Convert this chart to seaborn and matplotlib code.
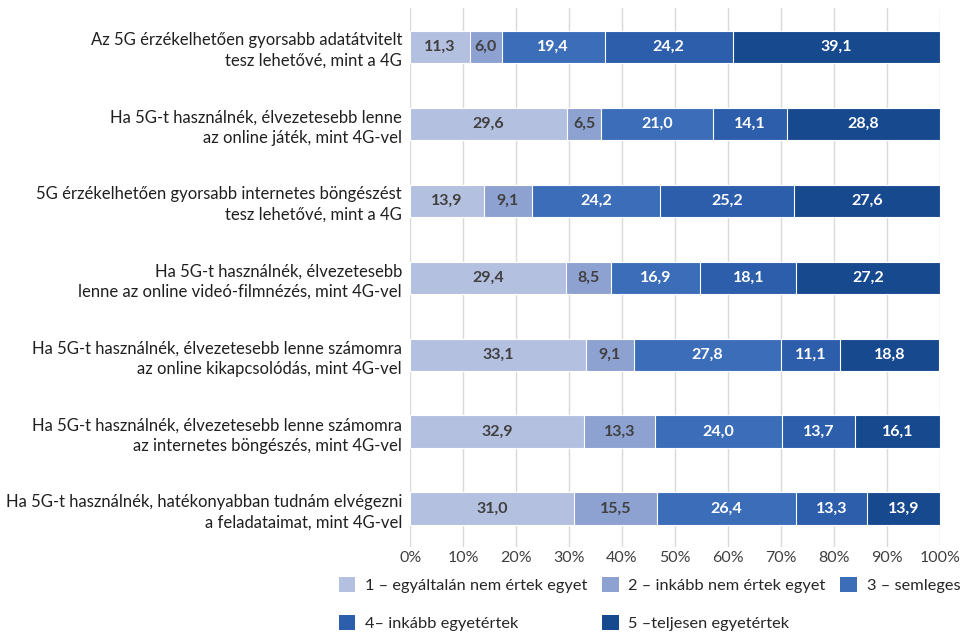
import numpy as np
import pandas as pd
import matplotlib
matplotlib.use('Agg')
import matplotlib.pyplot as plt
import seaborn as sns

# Adatok
kategoriak = [
    'Az 5G érzékelhetően gyorsabb adatátvitelt\ntesz lehetővé, mint a 4G',
    'Ha 5G-t használnék, élvezetesebb lenne\naz online játék, mint 4G-vel',
    '5G érzékelhetően gyorsabb internetes böngészést\ntesz lehetővé, mint a 4G',
    'Ha 5G-t használnék, élvezetesebb\nlenne az online videó-filmnézés, mint 4G-vel',
    'Ha 5G-t használnék, élvezetesebb lenne számomra\naz online kikapcsolódás, mint 4G-vel',
    'Ha 5G-t használnék, élvezetesebb lenne számomra\naz internetes böngészés, mint 4G-vel',
    'Ha 5G-t használnék, hatékonyabban tudnám elvégezni\na feladataimat, mint 4G-vel',
]
valaszok = ['1 – egyáltalán nem értek egyet', '2 – inkább nem értek egyet', '3 – semleges',
            '4– inkább egyetértek', '5 –teljesen egyetértek']
v1 = [11.3, 29.6, 13.9, 29.4, 33.1, 32.9, 31.0]
v2 = [6.0, 6.5, 9.1, 8.5, 9.1, 13.3, 15.5]
v3 = [19.4, 21.0, 24.2, 16.9, 27.8, 24.0, 26.4]
v4 = [24.2, 14.1, 25.2, 18.1, 11.1, 13.7, 13.3]
v5 = [39.1, 28.8, 27.6, 27.2, 18.8, 16.1, 13.9]
szinek = ['#B4C0E0', '#8EA2D2', '#3B6DB8', '#2C5EAC', '#17498F']
cimke_szin = ['#404040', '#404040', 'white', 'white', 'white']

ertekek = np.array([v1, v2, v3, v4, v5])
kumulalt = ertekek.cumsum(axis=0)

sns.set_style('white')
plt.rcParams['font.family'] = ['Lato', 'DejaVu Sans']

fig = plt.figure(figsize=(9.63, 6.34), dpi=100)
ax = fig.add_axes([0.426, 0.137, 0.55, 0.85])

# Halmozott sávok: a kumulált értékeket hátulról előre rajzoljuk
for i in range(4, -1, -1):
    df = pd.DataFrame({'kat': kategoriak, 'ertek': kumulalt[i]})
    sns.barplot(data=df, x='ertek', y='kat', orient='h', color=szinek[i],
                width=0.42, edgecolor='white', linewidth=0.8, ax=ax,
                label=valaszok[i], zorder=3, saturation=1)

for i in range(5):
    for j in range(len(kategoriak)):
        ax.text(kumulalt[i][j] - ertekek[i][j] / 2, j, f'{ertekek[i][j]:.1f}'.replace('.', ','),
                ha='center', va='center', fontsize=11.5, fontweight='bold',
                color=cimke_szin[i], zorder=5)

ax.set_xlim(0, 100)
ax.set_xticks(range(0, 101, 10))
ax.set_xticklabels([f'{t}%' for t in range(0, 101, 10)], fontsize=11.5, color='#404040')
ax.set_ylim(6.5, -0.5)
ax.set_xlabel('')
ax.set_ylabel('')
ax.tick_params(axis='y', labelsize=12, colors='#202020', length=0, pad=6)
ax.tick_params(axis='x', length=0, pad=3)
for lbl in ax.get_yticklabels():
    lbl.set_horizontalalignment('right')
    lbl.set_multialignment('right')
    lbl.set_linespacing(1.35)
ax.grid(axis='x', color='#D9D9D9', linewidth=1, zorder=0)
ax.set_axisbelow(True)
for s in ax.spines.values():
    s.set_visible(False)

handles, labels = ax.get_legend_handles_labels()
# soronkénti kitöltés három oszlopban
order = [labels.index(valaszok[k]) for k in [0, 3, 1, 4, 2]]
leg = fig.legend([handles[k] for k in order], [labels[k] for k in order],
                 loc='upper left', bbox_to_anchor=(0.345, 0.1), ncol=3, frameon=False,
                 fontsize=11.8, handlelength=1.0, handleheight=1.0, handletextpad=0.6,
                 columnspacing=0.9, labelspacing=1.35, borderaxespad=0)
for h in leg.legend_handles:
    h.set_edgecolor('none')
if ax.get_legend():
    ax.get_legend().remove()

fig.savefig('out.png', dpi=100)
